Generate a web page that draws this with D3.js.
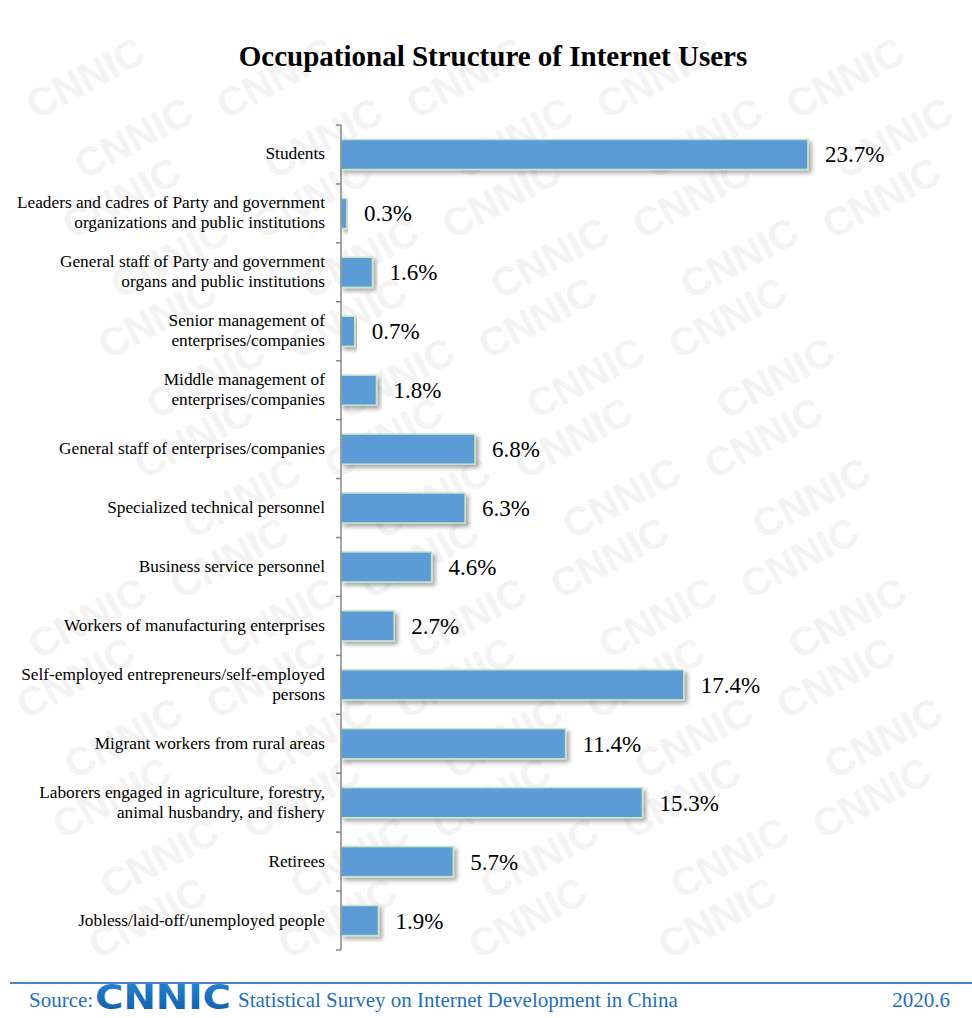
<!DOCTYPE html>
<html>
<head>
<meta charset="utf-8">
<script src="https://cdn.jsdelivr.net/npm/d3@7"></script>
<style>
  html, body { margin: 0; padding: 0; background: #fff; }
  svg { display: block; }
</style>
</head>
<body>
<svg id="chart" width="972" height="1018"></svg>
<script>
// Occupation categories (top to bottom) and their share of users, in percent
const categories = [
  ["Students"],
  ["Leaders and cadres of Party and government", "organizations and public institutions"],
  ["General staff of Party and government", "organs and public institutions"],
  ["Senior management of", "enterprises/companies"],
  ["Middle management of", "enterprises/companies"],
  ["General staff of enterprises/companies"],
  ["Specialized technical personnel"],
  ["Business service personnel"],
  ["Workers of manufacturing enterprises"],
  ["Self-employed entrepreneurs/self-employed", "persons"],
  ["Migrant workers from rural areas"],
  ["Laborers engaged in agriculture, forestry,", "animal husbandry, and fishery"],
  ["Retirees"],
  ["Jobless/laid-off/unemployed people"]
];
const shares = [23.7, 0.3, 1.6, 0.7, 1.8, 6.8, 6.3, 4.6, 2.7, 17.4, 11.4, 15.3, 5.7, 1.9];

const titleText = "Occupational Structure of Internet Users";
const sourceText = "Statistical Survey on Internet Development in China";
const dateText = "2020.6";

const svg = d3.select("#chart");
const W = 972, H = 1018;
const serif = "'Liberation Serif', 'Times New Roman', serif";

// Faint tiled brand watermark in the background (only whole marks kept)
const wm = svg.append("g").attr("fill", "#f3f3f3").attr("font-family", "'Liberation Sans', Arial, sans-serif")
  .attr("font-weight", "bold").attr("font-size", 40);
for (let row = -2; row < 20; row++) {
  for (let col = -1; col < 6; col++) {
    const x = col * 190 + (row % 2) * 30 + row * 18;
    const y = row * 60;
    const t = wm.append("text").attr("transform", `translate(${x},${y}) rotate(-28)`).text("CNNIC");
    const b = t.node().getBoundingClientRect();
    if (b.left < 1 || b.top < 1 || b.right > W - 1 || b.bottom > H - 1) t.remove();
  }
}

const rows = categories.map((c, i) => ({ label: c, value: shares[i], key: i }));

const margin = { left: 341, top: 125 };
const plotH = 825;
const pxPerUnit = 19.7;

const y = d3.scaleBand().domain(rows.map(d => d.key)).range([margin.top, margin.top + plotH]).paddingInner(0.49).paddingOuter(0.245);
const x = d3.scaleLinear().domain([0, 25]).range([margin.left, margin.left + 25 * pxPerUnit]);

// Drop shadow under bars
const defs = svg.append("defs");
const f = defs.append("filter").attr("id", "shadow").attr("x", "-5%").attr("y", "-20%").attr("width", "120%").attr("height", "160%");
f.append("feDropShadow").attr("dx", 3).attr("dy", 3).attr("stdDeviation", 2).attr("flood-color", "#000").attr("flood-opacity", 0.35);

// Title
svg.append("text").attr("x", 493).attr("y", 66).attr("text-anchor", "middle")
  .attr("font-family", serif).attr("font-weight", "bold").attr("font-size", 29).attr("fill", "#000")
  .text(titleText);

// Bars
svg.append("g").selectAll("rect").data(rows).join("rect")
  .attr("x", x(0))
  .attr("y", d => y(d.key))
  .attr("width", d => x(d.value) - x(0))
  .attr("height", y.bandwidth())
  .attr("fill", "#5b9bd5")
  .attr("stroke", "#c5e6c5")
  .attr("stroke-width", 1.5)
  .attr("filter", "url(#shadow)");

// Value labels
svg.append("g").selectAll("text").data(rows).join("text")
  .attr("x", d => x(d.value) + 17)
  .attr("y", d => y(d.key) + y.bandwidth() / 2 + 8)
  .attr("font-family", serif).attr("font-size", 23).attr("fill", "#000")
  .text(d => d.value.toFixed(1) + "%");

// Category axis with ticks at band boundaries
const axisG = svg.append("g");
axisG.append("line").attr("x1", margin.left).attr("x2", margin.left)
  .attr("y1", margin.top).attr("y2", margin.top + plotH)
  .attr("stroke", "#888").attr("stroke-width", 1.5);
const boundaries = d3.range(rows.length + 1).map(i => margin.top + i * y.step());
axisG.selectAll("line.tick").data(boundaries).join("line").attr("class", "tick")
  .attr("x1", margin.left - 5).attr("x2", margin.left)
  .attr("y1", d => d).attr("y2", d => d)
  .attr("stroke", "#888").attr("stroke-width", 1.5);

// Category labels (one or two lines, right aligned)
const lab = svg.append("g").attr("font-family", serif).attr("font-size", 17.3).attr("fill", "#000").attr("text-anchor", "end");
rows.forEach(d => {
  const cy = y(d.key) + y.bandwidth() / 2;
  const n = d.label.length;
  const t = lab.append("text").attr("x", 325).attr("y", cy + 5 - (n - 1) * 10);
  d.label.forEach((line, i) => {
    t.append("tspan").attr("x", 325).attr("dy", i === 0 ? 0 : 20).text(line);
  });
});

// Footer
svg.append("line").attr("x1", 10).attr("x2", W).attr("y1", 983).attr("y2", 983)
  .attr("stroke", "#4a86d0").attr("stroke-width", 2);
const foot = svg.append("g").attr("font-family", serif).attr("font-size", 21).attr("fill", "#1f6fc0");
foot.append("text").attr("x", 29).attr("y", 1007).text("Source:");
const grad = defs.append("linearGradient").attr("id", "logoGrad").attr("x1", 0).attr("y1", 0).attr("x2", 0).attr("y2", 1);
grad.append("stop").attr("offset", "0%").attr("stop-color", "#2a86d6");
grad.append("stop").attr("offset", "100%").attr("stop-color", "#0a5aa8");
svg.append("text").attr("x", 95).attr("y", 1009)
  .attr("font-family", "'DejaVu Sans', 'Liberation Sans', sans-serif").attr("font-weight", "bold")
  .attr("font-size", 33).attr("textLength", 136).attr("lengthAdjust", "spacingAndGlyphs")
  .attr("fill", "url(#logoGrad)").text("CNNIC");
foot.append("text").attr("x", 238).attr("y", 1007).text(sourceText);
foot.append("text").attr("x", 950).attr("y", 1007).attr("text-anchor", "end").text(dateText);
</script>
</body>
</html>
